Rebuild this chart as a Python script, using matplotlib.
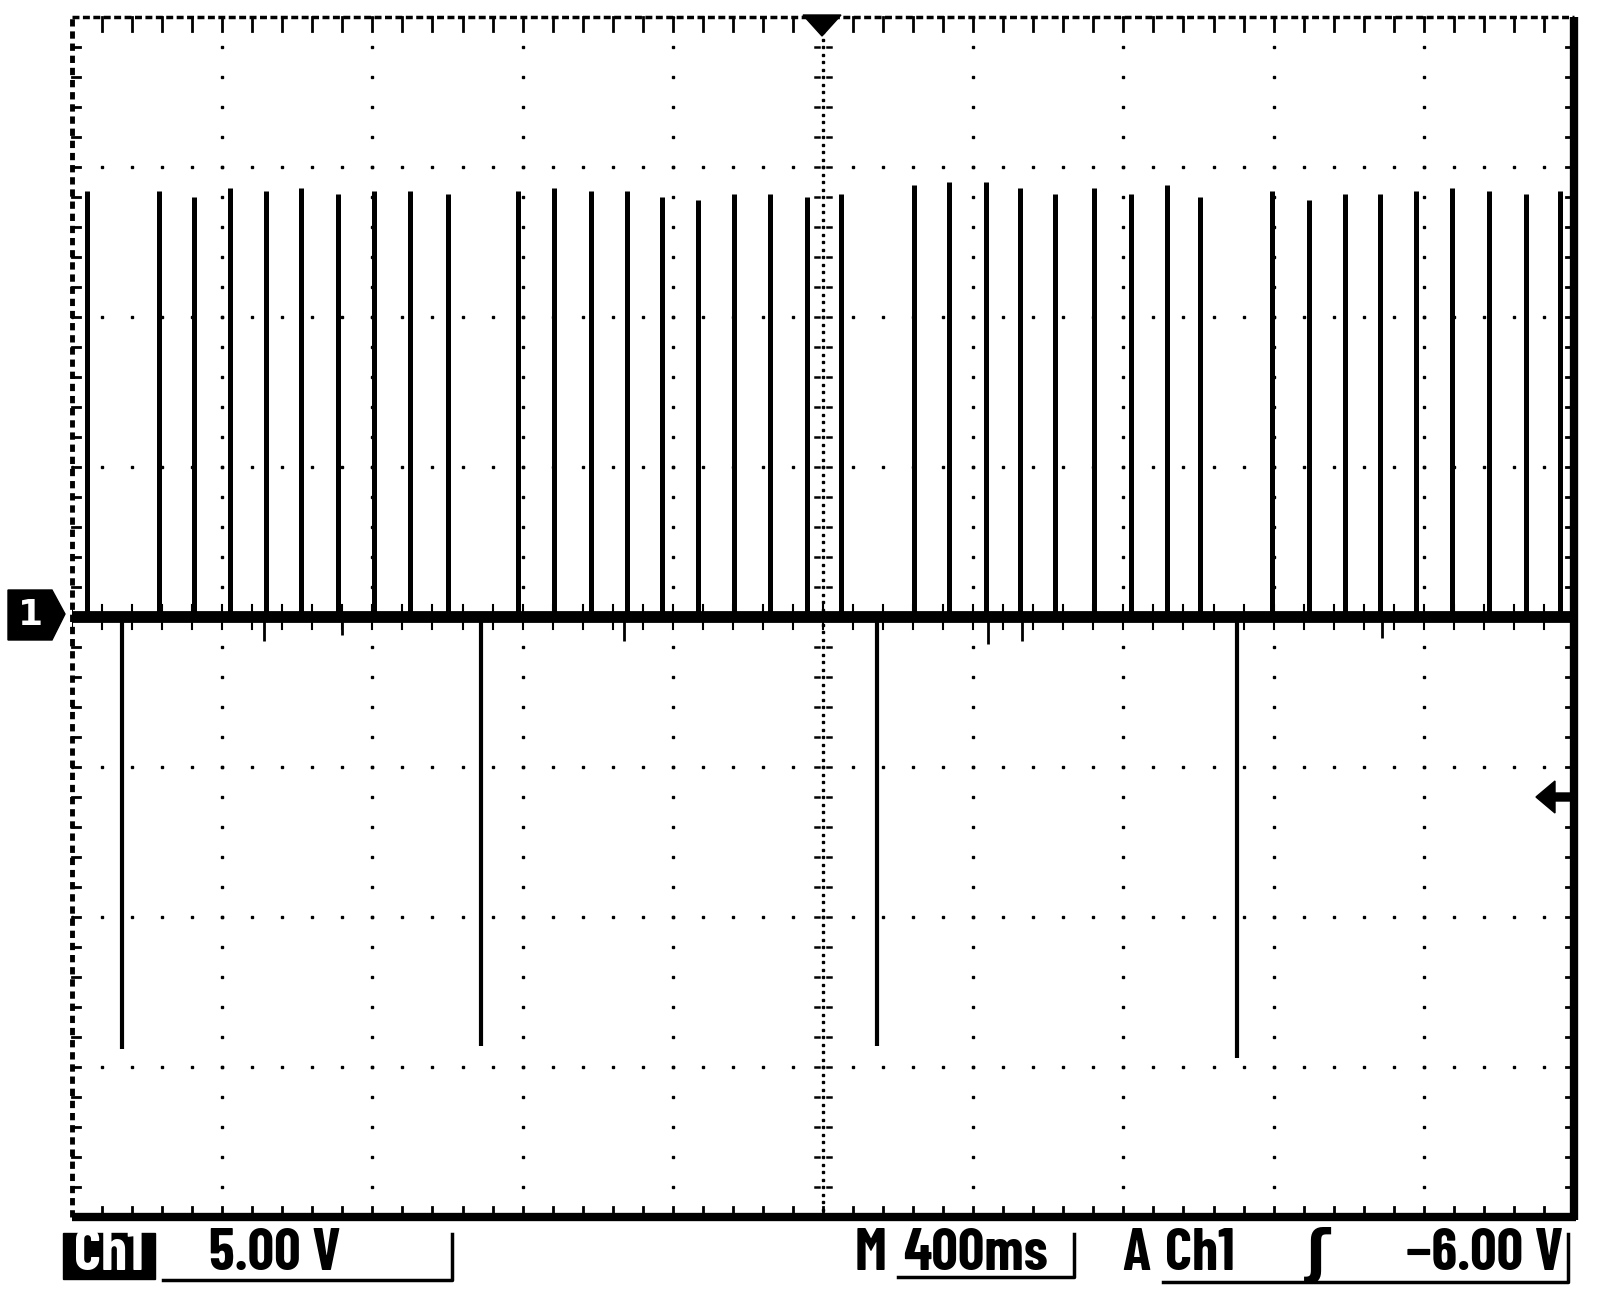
import numpy as np
import matplotlib.pyplot as plt
from matplotlib.patches import Polygon, Rectangle

# positive pulses: time (s) and peak (V)
pos_t = [0.040, 0.232, 0.325, 0.421, 0.517, 0.611, 0.709, 0.805, 0.901, 1.000,
         1.189, 1.283, 1.381, 1.477, 1.571, 1.667, 1.763, 1.859, 1.957, 2.048,
         2.243, 2.336, 2.435, 2.525, 2.619, 2.723, 2.821, 2.915, 3.005,
         3.195, 3.293, 3.389, 3.483, 3.579, 3.675, 3.773, 3.872, 3.963]
pos_v = [14.2, 14.2, 14.0, 14.3, 14.2, 14.3, 14.1, 14.2, 14.2, 14.1,
         14.2, 14.3, 14.2, 14.2, 14.0, 13.9, 14.1, 14.1, 14.0, 14.1,
         14.4, 14.5, 14.5, 14.3, 14.1, 14.3, 14.1, 14.4, 14.0,
         14.2, 13.9, 14.1, 14.1, 14.2, 14.3, 14.2, 14.1, 14.2]
# negative pulses
neg_t = [0.132, 1.090, 2.143, 3.103]
neg_v = [-14.4, -14.3, -14.3, -14.7]
# small undershoots on the baseline
dip_t = [0.51, 0.72, 1.47, 2.44, 2.53, 3.49]
dip_v = [-0.8, -0.6, -0.8, -0.9, -0.8, -0.7]

volts_div = 5.00
time_div = 0.4
trig_level = -6.00

W, H = 1600, 1298
fig = plt.figure(figsize=(W / 100, H / 100), dpi=100)
fig.patch.set_facecolor('white')


def fx(x):
    return x / W


def fy(y):
    return 1 - y / H


left, right, top, bottom = 72, 1574, 17, 1217
ax = fig.add_axes([fx(left), fy(bottom), fx(right - left), (bottom - top) / H])
ax.set_xlim(0, 10 * time_div)
ax.set_ylim(-4 * volts_div, 4 * volts_div)
ax.axis('off')

x0, x1 = 0, 10 * time_div
y0, y1 = -4 * volts_div, 4 * volts_div
dx_minor = time_div / 5
dy_minor = volts_div / 5

# graticule dots
xs_minor = np.arange(x0, x1 + 1e-9, dx_minor)
ys_minor = np.arange(y0, y1 + 1e-9, dy_minor)
for i in range(1, 10):
    if i == 5:
        continue
    ax.plot(np.full_like(ys_minor, i * time_div), ys_minor, ls='none', marker='s',
            ms=1.8, color='k')
for j in range(1, 8):
    if j == 4:
        continue
    yv = y0 + j * volts_div
    ax.plot(xs_minor, np.full_like(xs_minor, yv), ls='none', marker='s',
            ms=1.8, color='k')

# center cross lines with ticks
xc = 5 * time_div
ys_fine = np.arange(y0, y1 + 1e-9, dy_minor / 4)
ax.plot(np.full_like(ys_fine, xc), ys_fine, ls='none', marker='s', ms=1.8, color='k')
tick_x = 0.021
for yv in ys_minor:
    ax.plot([xc - tick_x, xc - tick_x / 2], [yv, yv], color='k', lw=1.8)
    ax.plot([xc + tick_x / 2, xc + tick_x], [yv, yv], color='k', lw=1.8)
for xv in xs_minor:
    ax.plot([xv, xv], [-0.4, 0.4], color='k', lw=1.5)

# borders
ax.plot([x0, x1], [y1, y1], color='k', lw=2.5, ls=(0, (2, 1)), clip_on=False)
ax.plot([x0, x0], [y0, y1], color='k', lw=3.5, ls=(0, (1.5, 1)), clip_on=False)
ax.plot([x0, x1 + 0.005], [y0, y0], color='k', lw=6, clip_on=False, solid_capstyle='butt')
ax.plot([x1, x1], [y0 - 0.1, y1], color='k', lw=6, clip_on=False, solid_capstyle='butt')
for xv in xs_minor[1:-1]:
    ax.plot([xv, xv], [y1, y1 - 0.45], color='k', lw=2, clip_on=False)
    ax.plot([xv, xv], [y0, y0 + 0.35], color='k', lw=2, clip_on=False)
for yv in ys_minor[1:-1]:
    ax.plot([x0, x0 + 0.02], [yv, yv], color='k', lw=2, clip_on=False)
    ax.plot([x1, x1 - 0.02], [yv, yv], color='k', lw=2, clip_on=False)

# trace
ax.plot([x0, x1], [0, 0], color='k', lw=8.5, solid_capstyle='butt')
ax.vlines(pos_t, 0, pos_v, color='k', lw=3.6)
ax.vlines(neg_t, 0, neg_v, color='k', lw=3.0)
ax.vlines(dip_t, 0, dip_v, color='k', lw=2.0)

# channel marker
marker = Polygon([(fx(8), fy(590)), (fx(52), fy(590)), (fx(65), fy(614)),
                  (fx(52), fy(640)), (fx(8), fy(640))], closed=True,
                 transform=fig.transFigure, color='k')
fig.patches.append(marker)
fig.text(fx(31), fy(615), '1', color='white', fontsize=26, fontweight='bold',
         ha='center', va='center', family='DejaVu Sans')

# trigger position (top)
fig.patches.append(Polygon([(fx(803), fy(15)), (fx(841), fy(15)), (fx(822), fy(36))],
                           closed=True, transform=fig.transFigure, color='k'))
# trigger level (right): arrow at trig_level
ly = H - ax.transData.transform((x1, trig_level))[1]
fig.patches.append(Polygon([(fx(1536), fy(ly)), (fx(1555), fy(ly - 16)), (fx(1555), fy(ly - 4)),
                            (fx(1572), fy(ly - 4)), (fx(1572), fy(ly + 4)),
                            (fx(1555), fy(ly + 4)), (fx(1555), fy(ly + 16))],
                           closed=True, transform=fig.transFigure, color='k'))

# status bar
fnt = dict(family=['Barlow Condensed', 'DejaVu Sans'], fontweight='bold',
           fontsize=42, va='center')
ty = fy(1255)
fig.patches.append(Rectangle((fx(63), fy(1279)), fx(92), 46 / H,
                             transform=fig.transFigure, color='k'))
fig.text(fx(109), ty, 'Ch1', color='white', ha='center', **fnt)
fig.text(fx(209), ty, f'{volts_div:.2f} V', color='k', ha='left', **fnt)
fig.lines.append(plt.Line2D([fx(163), fx(452), fx(452)], [fy(1280), fy(1280), fy(1234)],
                            transform=fig.transFigure, color='k', lw=2.5))
fig.text(fx(855), ty, 'M', color='k', ha='left', **fnt)
fig.text(fx(903), ty, f'{int(time_div * 1000)}ms', color='k', ha='left', **fnt)
fig.lines.append(plt.Line2D([fx(898), fx(1074), fx(1074)], [fy(1277), fy(1277), fy(1234)],
                            transform=fig.transFigure, color='k', lw=2.5))
fig.text(fx(1122), ty, 'A', color='k', ha='left', **fnt)
fig.text(fx(1165), ty, 'Ch1', color='k', ha='left', **fnt)
fig.text(fx(1318), ty, 'ʃ', color='k', ha='center', **fnt)
fig.text(fx(1563), ty, f'\u2212{abs(trig_level):.2f} V', color='k', ha='right', **fnt)
fig.lines.append(plt.Line2D([fx(1163), fx(1568), fx(1568)], [fy(1282), fy(1282), fy(1234)],
                            transform=fig.transFigure, color='k', lw=2.5))

fig.savefig('out.png', dpi=100, facecolor='white')
